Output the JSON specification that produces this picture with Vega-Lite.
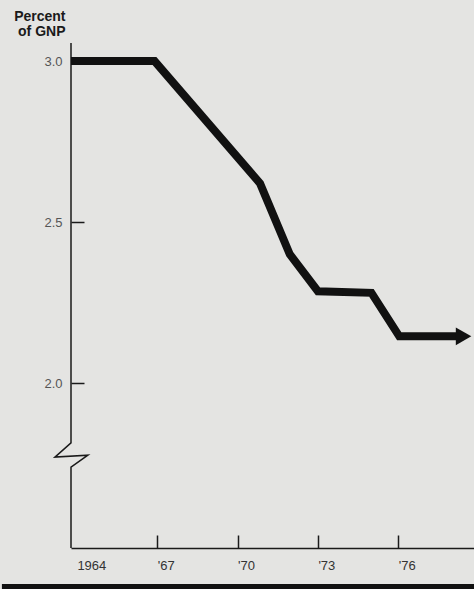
{
  "$schema": "https://vega.github.io/schema/vega-lite/v6.json",
  "width": 403,
  "height": 505,
  "autosize": {"type": "none"},
  "padding": {"left": 71, "top": 43, "right": 0, "bottom": 41},
  "background": "#e4e4e2",
  "config": {
    "view": {"stroke": null},
    "axis": {"grid": false, "labelFont": "Liberation Sans", "titleFont": "Liberation Sans"}
  },
  "datasets": {
    "gnp": [
      {"year": 1963.78, "pct": 3.0},
      {"year": 1966.9, "pct": 3.0},
      {"year": 1970.84, "pct": 2.62},
      {"year": 1971.95, "pct": 2.40},
      {"year": 1973.0, "pct": 2.285},
      {"year": 1975.0, "pct": 2.28},
      {"year": 1976.04, "pct": 2.145},
      {"year": 1978.4, "pct": 2.145}
    ],
    "arrow": [{"year": 1978.44, "pct": 2.145}],
    "yline": [
      {"i": 1, "year": 1963.78, "pct": 3.056},
      {"i": 2, "year": 1963.78, "pct": 1.814},
      {"i": 3, "year": 1963.18, "pct": 1.770},
      {"i": 4, "year": 1964.41, "pct": 1.776},
      {"i": 5, "year": 1963.78, "pct": 1.739},
      {"i": 6, "year": 1963.78, "pct": 1.4876}
    ],
    "bar": [{"year": 1961.2, "year2": 1978.83, "pct": 1.3665}]
  },
  "encoding": {
    "x": {
      "field": "year",
      "type": "quantitative",
      "scale": {"domain": [1963.78, 1978.83], "nice": false, "zero": false},
      "axis": {
        "title": null,
        "values": [1964, 1967, 1970, 1973, 1976],
        "labelExpr": "datum.value == 1964 ? '1964' : \"'\" + substring(toString(datum.value), 2)",
        "labelAlign": "left",
        "labelDx": -6,
        "labelFontSize": 13,
        "labelColor": "#333333",
        "labelPadding": 24,
        "tickSize": -13,
        "tickWidth": 1.5,
        "tickColor": "#1a1a1a",
        "tickOpacity": {"condition": {"test": "datum.value == 1964", "value": 0}, "value": 1},
        "domainColor": "#1a1a1a",
        "domainWidth": 1.5
      }
    },
    "y": {
      "field": "pct",
      "type": "quantitative",
      "scale": {"domain": [1.4876, 3.056], "nice": false, "zero": false},
      "axis": {
        "title": ["Percent", "of GNP"],
        "titleAngle": 0,
        "titleAlign": "right",
        "titleBaseline": "top",
        "titleX": -6,
        "titleY": -34,
        "titleFontSize": 14,
        "titleFontWeight": "bold",
        "titleColor": "#1a1a1a",
        "titleLineHeight": 15,
        "values": [2.0, 2.5, 3.0],
        "format": ".1f",
        "labelFontSize": 13,
        "labelColor": "#555555",
        "labelPadding": 22,
        "tickSize": -13,
        "tickWidth": 1.5,
        "tickColor": "#1a1a1a",
        "domain": false
      }
    }
  },
  "layer": [
    {
      "data": {"name": "yline"},
      "mark": {"type": "line", "color": "#1a1a1a", "strokeWidth": 1.5},
      "encoding": {"order": {"field": "i", "type": "quantitative"}}
    },
    {
      "data": {"name": "bar"},
      "mark": {"type": "rule", "color": "#111111", "strokeWidth": 6},
      "encoding": {"x2": {"field": "year2"}}
    },
    {
      "data": {"name": "gnp"},
      "mark": {"type": "line", "color": "#111111", "strokeWidth": 8, "strokeJoin": "miter"},
      "encoding": {}
    },
    {
      "data": {"name": "arrow"},
      "mark": {"type": "point", "shape": "triangle-right", "filled": true, "size": 320, "color": "#111111", "opacity": 1},
      "encoding": {}
    }
  ]
}
